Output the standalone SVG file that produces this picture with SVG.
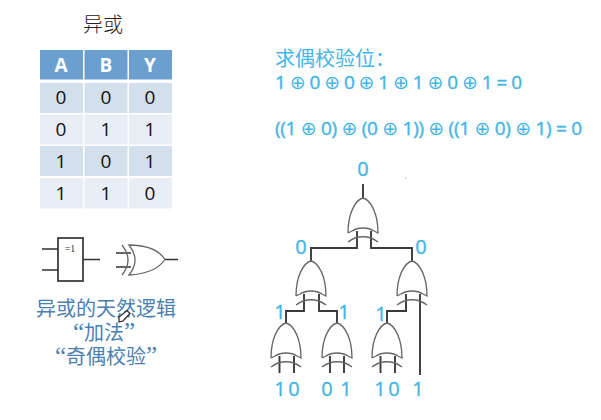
<svg xmlns="http://www.w3.org/2000/svg" xmlns:xlink="http://www.w3.org/1999/xlink" width="601" height="420" viewBox="0 0 601 420">
<style>
text{font-family:"Open Sans","DejaVu Sans","Noto Sans CJK SC",sans-serif}
.cell{font-size:19px;fill:#111;text-anchor:middle}
.hd{font-size:19px;font-weight:700;fill:#fff;text-anchor:middle}
.h{fill:#6a9fd0}.a{fill:#d3dfeb}.b{fill:#e9edf5}
.blue{fill:#45b5e3;font-size:19px;stroke:#45b5e3;stroke-width:.4}
.op{font-family:"DejaVu Sans",sans-serif;font-size:19px;stroke-width:0}
.num{fill:#45b5e3;font-size:20px;stroke:#45b5e3;stroke-width:.35;text-anchor:middle}
.cjk{font-family:"Noto Sans CJK SC",sans-serif;fill:#4a7fb0;font-size:20px;font-weight:400;text-anchor:middle}
.q{font-family:"Liberation Serif",serif;font-size:25px}
.gate{fill:none;stroke:#666;stroke-width:1.3}
.wire{fill:none;stroke:#3a3a3a;stroke-width:1.9}
.sym{fill:none;stroke:#333;stroke-width:1.7}
</style>
<defs>
<g id="xorgate">
<path class="gate" d="M-15 35C-15 16-8 2 0 0C8 2 15 16 15 35L11 33C5 29-5 29-11 33L-15 35"/>
<path class="gate" d="M-15 44C-6 37 6 37 15 44"/>
</g>
</defs>
<rect width="601" height="420" fill="#fff"/>
<text x="103" y="32" style="font-family:'Noto Sans CJK SC',sans-serif;font-size:20px;font-weight:300;fill:#222" text-anchor="middle">异或</text>
<g id="table">
<rect class="h" x="40" y="50" width="43" height="29.500"/><rect class="h" x="84.500" y="50" width="43" height="29.500"/><rect class="h" x="129" y="50" width="43" height="29.500"/>
<rect class="a" x="40" y="83" width="43" height="30"/><rect class="a" x="84.500" y="83" width="43" height="30"/><rect class="a" x="129" y="83" width="43" height="30"/>
<rect class="b" x="40" y="114.500" width="43" height="30"/><rect class="b" x="84.500" y="114.500" width="43" height="30"/><rect class="b" x="129" y="114.500" width="43" height="30"/>
<rect class="a" x="40" y="146" width="43" height="30"/><rect class="a" x="84.500" y="146" width="43" height="30"/><rect class="a" x="129" y="146" width="43" height="30"/>
<rect class="b" x="40" y="178" width="43" height="30.500"/><rect class="b" x="84.500" y="178" width="43" height="30.500"/><rect class="b" x="129" y="178" width="43" height="30.500"/>
<text class="hd" x="61" y="72">A</text><text class="hd" x="106" y="72">B</text><text class="hd" x="150" y="72">Y</text>
<text class="cell" x="61" y="104">0</text><text class="cell" x="106" y="104">0</text><text class="cell" x="150" y="104">0</text>
<text class="cell" x="61" y="136">0</text><text class="cell" x="106" y="136">1</text><text class="cell" x="150" y="136">1</text>
<text class="cell" x="61" y="168">1</text><text class="cell" x="106" y="168">0</text><text class="cell" x="150" y="168">1</text>
<text class="cell" x="61" y="200">1</text><text class="cell" x="106" y="200">1</text><text class="cell" x="150" y="200">0</text>
</g>
<g id="symbol-iec">
<rect class="sym" x="58" y="238" width="25" height="43"/>
<path class="sym" d="M42 249H58M42 270H58M83 259.500H100"/>
<text x="70" y="252" text-anchor="middle" style="font-family:'Liberation Serif',serif;font-size:10px;fill:#333">=1</text>
</g>
<g id="symbol-ansi">
<path class="sym" d="M116 253H131M116 267H131M165 259.500H178"/>
<path class="gate" d="M129 245C146 245 158 249 165 259.500C158 270 146 274 129 275C137 265 137 255 129 245Z"/>
<path class="gate" d="M122 245C130 255 130 265 122 275"/>
</g>
<g id="caption">
<text class="cjk" x="106" y="316">异或的天然逻辑</text>
<text class="cjk" x="104" y="340"><tspan class="q">“</tspan>加法<tspan class="q">”</tspan></text>
<text class="cjk" x="106" y="364"><tspan class="q">“</tspan>奇偶校验<tspan class="q">”</tspan></text>
<path d="M119 322L119 317L127 310.500L130 313.500L123 321Z" fill="#fff" stroke="#222" stroke-width="1.2"/>
</g>
<g id="equations">
<text x="275" y="66" style="font-family:'Noto Sans CJK SC',sans-serif;font-size:20px;fill:#45b5e3">求偶校验位：</text>
<text class="blue" x="275" y="89" textLength="247" lengthAdjust="spacing">1 <tspan class="op">⊕</tspan> 0 <tspan class="op">⊕</tspan> 0 <tspan class="op">⊕</tspan> 1 <tspan class="op">⊕</tspan> 1 <tspan class="op">⊕</tspan> 0 <tspan class="op">⊕</tspan> 1 = 0</text>
<text class="blue" x="275" y="135" textLength="307" lengthAdjust="spacing">((1 <tspan class="op">⊕</tspan> 0) <tspan class="op">⊕</tspan> (0 <tspan class="op">⊕</tspan> 1)) <tspan class="op">⊕</tspan> ((1 <tspan class="op">⊕</tspan> 0) <tspan class="op">⊕</tspan> 1) = 0</text>
</g>
<g id="connectors">
<path class="wire" d="M363 184V198"/>
<path class="wire" d="M357 231V248H311V262"/>
<path class="wire" d="M371 231V248H412V262"/>
<path class="wire" d="M304 294V311H286V323"/>
<path class="wire" d="M319 294V311H337V323"/>
<path class="wire" d="M406 294V311H387V323"/>
<path class="wire" d="M420 294V375"/>
<path class="wire" d="M279.500 356V373M294 356V373M330 356V373M344 356V373M380.500 356V373M395 356V373"/>
</g>
<g id="gate-root"><use xlink:href="#xorgate" href="#xorgate" x="363" y="198"/></g>
<g id="gate-l"><use xlink:href="#xorgate" href="#xorgate" x="311" y="261"/></g>
<g id="gate-r"><use xlink:href="#xorgate" href="#xorgate" x="412" y="261"/></g>
<g id="gate-ll"><use xlink:href="#xorgate" href="#xorgate" x="286" y="323"/></g>
<g id="gate-lr"><use xlink:href="#xorgate" href="#xorgate" x="337" y="323"/></g>
<g id="gate-rl"><use xlink:href="#xorgate" href="#xorgate" x="387" y="323"/></g>
<g id="values">
<text class="num" x="363" y="176">0</text>
<text class="num" x="301" y="254">0</text><text class="num" x="421" y="254">0</text>
<text class="num" x="280" y="319">1</text><text class="num" x="344" y="319">1</text><text class="num" x="381" y="321">1</text>
<text class="num" x="280" y="396">1</text><text class="num" x="294" y="396">0</text>
<text class="num" x="327" y="396">0</text><text class="num" x="346" y="396">1</text>
<text class="num" x="380" y="396">1</text><text class="num" x="394" y="396">0</text>
<text class="num" x="418" y="396">1</text>
</g>
<rect x="405" y="177.500" width="1" height="1" fill="#999"/>
</svg>
